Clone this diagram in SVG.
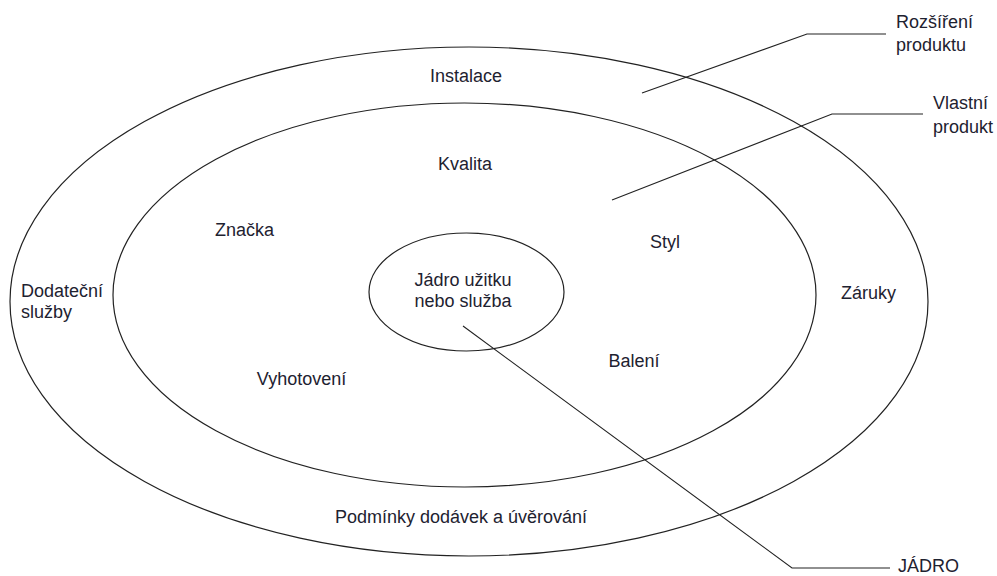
<svg xmlns="http://www.w3.org/2000/svg" width="997" height="576" viewBox="0 0 997 576">
<style>
.ring{fill:none;stroke:#222;stroke-width:1.2}
.lead{fill:none;stroke:#222;stroke-width:1.1}
text{font-family:"Liberation Sans",Arial,sans-serif;font-size:18px;fill:#1e2230}
.m{text-anchor:middle}
</style>
<rect width="997" height="576" fill="#fff"/>
<g id="outer-ring">
<ellipse class="ring" cx="469" cy="301.5" rx="459" ry="254.5"/>
<text class="m" x="466" y="82">Instalace</text>
<text x="21" y="297">Dodateční</text>
<text x="21" y="318">služby</text>
<text class="m" x="868.5" y="299">Záruky</text>
<text class="m" x="461" y="523">Podmínky dodávek a úvěrování</text>
</g>
<g id="inner-ring">
<ellipse class="ring" cx="464.5" cy="295" rx="351.5" ry="192"/>
<text class="m" x="465" y="170">Kvalita</text>
<text class="m" x="244.5" y="236">Značka</text>
<text class="m" x="665" y="248">Styl</text>
<text class="m" x="634" y="367">Balení</text>
<text class="m" x="301.5" y="385">Vyhotovení</text>
</g>
<g id="core">
<ellipse class="ring" cx="466.5" cy="292" rx="97.5" ry="59"/>
<text class="m" x="463" y="286">Jádro užitku</text>
<text class="m" x="463" y="307">nebo služba</text>
</g>
<g id="connectors">
<polyline class="lead" points="642,93 807,34 886,34"/>
<polyline class="lead" points="612,200 832,114 923,114"/>
<polyline class="lead" points="463,326 792,568 890,568"/>
</g>
<g id="label-rozsireni">
<text x="896" y="28">Rozšíření</text>
<text x="896" y="51">produktu</text>
</g>
<g id="label-vlastni">
<text x="933" y="109">Vlastní</text>
<text x="933" y="133">produkt</text>
</g>
<g id="label-jadro">
<text x="898" y="572">JÁDRO</text>
</g>
</svg>
